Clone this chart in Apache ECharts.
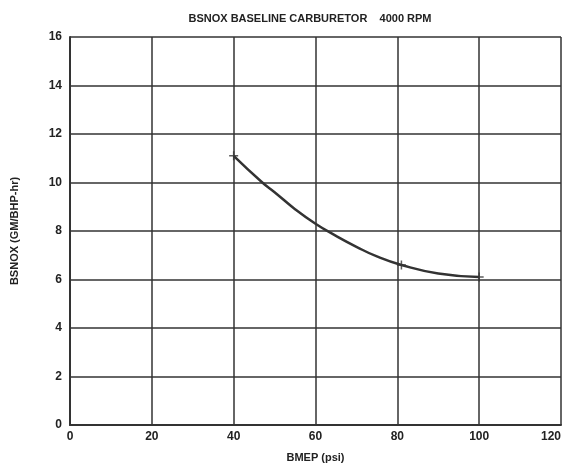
<!DOCTYPE html>
<html><head><meta charset="utf-8">
<script src="https://cdn.jsdelivr.net/npm/echarts@6/dist/echarts.min.js"></script>
<style>html,body{margin:0;padding:0;background:#fff}#c{width:565px;height:473px}</style>
</head><body><div id="c"></div>
<script>
const bmep = [40, 47, 50, 55, 60, 65, 70, 75, 81, 90, 100];
const bsnox = [11.1, 10.0, 9.6, 8.9, 8.3, 7.8, 7.35, 6.95, 6.6, 6.25, 6.1];
const markX = [40, 81, 100];
const markY = [11.1, 6.6, 6.1];
const chart = echarts.init(document.getElementById('c'));
const font = 'Liberation Sans, Arial, sans-serif';
chart.setOption({
  animation: false,
  backgroundColor: '#fff',
  title: { text: 'BSNOX BASELINE CARBURETOR    4000 RPM', left: 305, top: 8, textAlign: 'center',
    textStyle: { fontFamily: font, fontSize: 11, fontWeight: 'bold', color: '#222' } },
  grid: { left: 70, right: 4, top: 37, bottom: 48, containLabel: false, outerBoundsMode: 'none' },
  xAxis: { type: 'value', min: 0, max: 120, interval: 20,
    name: 'BMEP (psi)', nameLocation: 'middle', nameGap: 27,
    nameTextStyle: { fontFamily: font, fontSize: 11, fontWeight: 'bold', color: '#222' },
    axisLine: { lineStyle: { color: '#333', width: 2 } }, axisTick: { show: false },
    axisLabel: { fontFamily: font, fontSize: 12, fontWeight: 'bold', color: '#222', margin: 6, alignMaxLabel: 'right' },
    splitLine: { lineStyle: { color: '#333', width: 1.5 } } },
  yAxis: { type: 'value', min: 0, max: 16, interval: 2,
    name: 'BSNOX (GM/BHP-hr)', nameLocation: 'middle', nameGap: 50,
    nameTextStyle: { fontFamily: font, fontSize: 11, fontWeight: 'bold', color: '#222' },
    axisLine: { lineStyle: { color: '#333', width: 2 } }, axisTick: { show: false },
    axisLabel: { fontFamily: font, fontSize: 12, fontWeight: 'bold', color: '#222', margin: 8 },
    splitLine: { lineStyle: { color: '#333', width: 1.5 } } },
  series: [
    { type: 'line', smooth: true, showSymbol: false, data: bmep.map((x, i) => [x, bsnox[i]]),
      lineStyle: { color: '#333', width: 2.5 } },
    { type: 'scatter', symbol: 'path://M0,-5L0,5M-5,0L5,0', symbolSize: 9,
      data: markX.map((x, i) => [x, markY[i]]),
      itemStyle: { color: 'none', borderColor: '#333', borderWidth: 1.5 } }
  ]
});
</script></body></html>
